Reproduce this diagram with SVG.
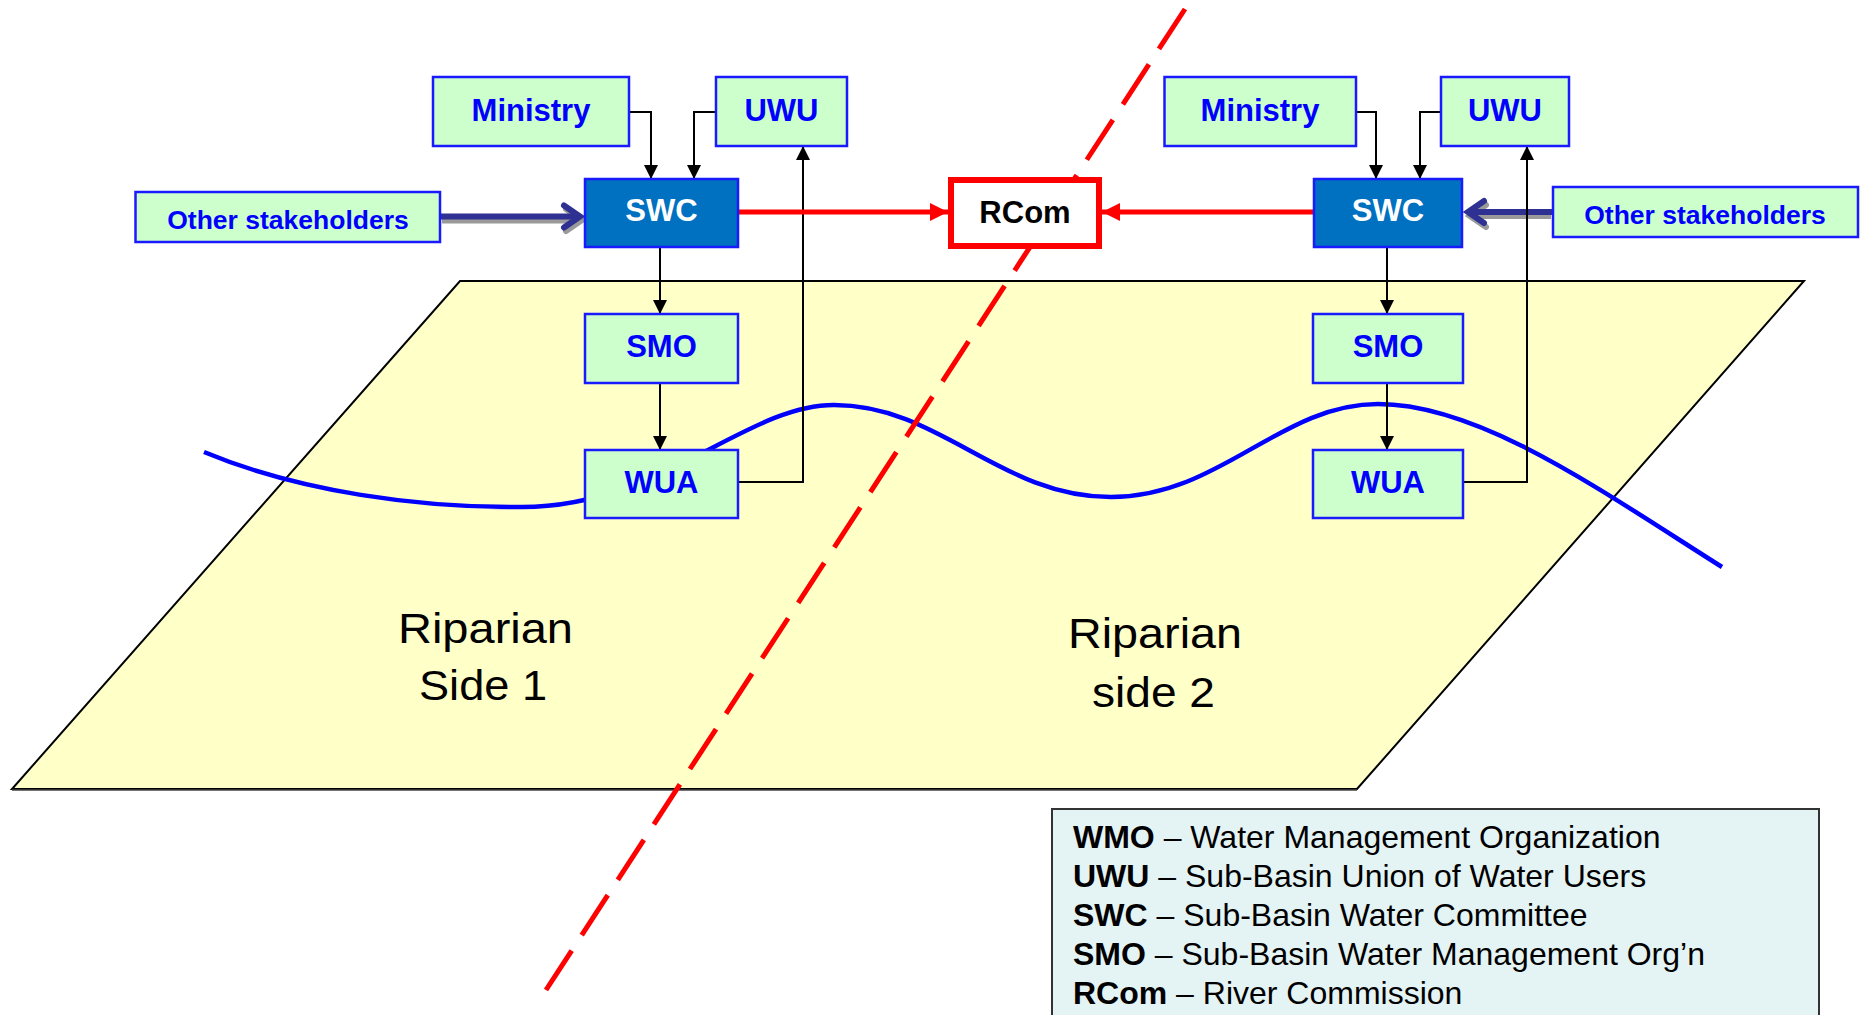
<svg xmlns="http://www.w3.org/2000/svg" width="1860" height="1015" viewBox="0 0 1860 1015">
<style>
.box{fill:#CCFFCC;stroke:#1a1aff;stroke-width:2.5}
.swc{fill:#0070C0;stroke:#1a1aff;stroke-width:2.5}
.lbl{font-family:"Liberation Sans",Arial,sans-serif;font-weight:bold;font-size:31px;fill:#0000FF;text-anchor:middle}
.lbl2{font-family:"Liberation Sans",Arial,sans-serif;font-weight:bold;font-size:26.5px;fill:#0000FF;text-anchor:middle}
.wt{fill:#FFFFFF}
.conn{fill:none;stroke:#000;stroke-width:2;marker-end:url(#ab)}
.red{fill:none;stroke:#FF0000;stroke-width:5;marker-end:url(#ar)}
.rip{font-family:"Liberation Sans",Arial,sans-serif;font-size:42px;fill:#000;text-anchor:middle}
.leg{font-family:"Liberation Sans",Arial,sans-serif;font-size:32px;fill:#000}
.shaft{fill:none;stroke:#2E3192;stroke-width:6}
.shadow{fill:none;stroke:#9a9a9a;stroke-width:6}
.head{fill:none;stroke:#2E3192;stroke-width:6;stroke-linecap:round;stroke-linejoin:miter}
.headsh{fill:none;stroke:#9a9a9a;stroke-width:6;stroke-linecap:round}
</style>
<defs>
<marker id="ab" viewBox="0 0 10 10" refX="10" refY="5" markerWidth="15" markerHeight="14" markerUnits="userSpaceOnUse" orient="auto"><path d="M0,0 L10,5 L0,10 z" fill="#000"/></marker>
<marker id="ar" viewBox="0 0 10 10" refX="10" refY="5" markerWidth="18" markerHeight="18" markerUnits="userSpaceOnUse" orient="auto"><path d="M0,0 L10,5 L0,10 z" fill="#FF0000"/></marker>
</defs>
<rect width="1860" height="1015" fill="#FFFFFF"/>
<g id="land">
<polygon points="460,281 1804,281 1357,789 12,789" fill="#FFFFC8" stroke="#000" stroke-width="2"/>
<line x1="12" y1="790" x2="1357" y2="790" stroke="#444" stroke-width="1.5"/>
</g>
<g id="river">
<path d="M204,452 C300,492 420,508 522,507 C660,507 745,405 834,405 C940,405 1000,497 1111,497 C1220,497 1280,404 1378,404 C1480,404 1600,490 1722,567" fill="none" stroke="#0000FF" stroke-width="4.5"/>
</g>
<g id="border">
<line x1="1185" y1="9" x2="546" y2="990" stroke="#FF0000" stroke-width="5" stroke-dasharray="47.7 18.4"/>
</g>
<g id="riparian1">
<text class="rip" x="485.5" y="643" textLength="175" lengthAdjust="spacingAndGlyphs">Riparian</text>
<text class="rip" x="483" y="700" textLength="128" lengthAdjust="spacingAndGlyphs">Side 1</text>
</g>
<g id="riparian2">
<text class="rip" x="1155" y="648" textLength="174" lengthAdjust="spacingAndGlyphs">Riparian</text>
<text class="rip" x="1153.5" y="707" textLength="123" lengthAdjust="spacingAndGlyphs">side 2</text>
</g>
<g id="connectors">
<path class="shadow" d="M442,220.5 L574,220.5"/>
<path class="headsh" d="M566,209 L582,220 L566,231"/>
<path class="shaft" d="M440,216.5 L576,216.5"/>
<path class="head" d="M564,205.5 L580,216.5 L564,227.5"/>
<path class="shadow" d="M1551,216 L1470,216"/>
<path class="headsh" d="M1486,205 L1470,216 L1486,227"/>
<path class="shaft" d="M1553,212 L1469,212"/>
<path class="head" d="M1484,201 L1468,212 L1484,223"/>
<path class="conn" d="M629,112 L651,112 L651,179"/>
<path class="conn" d="M716,112 L694,112 L694,179"/>
<path class="conn" d="M660,247 L660,314"/>
<path class="conn" d="M660,383 L660,450"/>
<path class="conn" d="M738,482 L803,482 L803,146"/>
<path class="conn" d="M1356,112 L1376,112 L1376,179"/>
<path class="conn" d="M1441,112 L1420,112 L1420,179"/>
<path class="conn" d="M1387,247 L1387,314"/>
<path class="conn" d="M1387,383 L1387,450"/>
<path class="conn" d="M1463,482 L1527,482 L1527,146"/>
<path class="red" d="M738,212 L948,212"/>
<path class="red" d="M1314,212 L1102,212"/>
</g>
<g id="ministry1"><rect class="box" x="433" y="77" width="196" height="69"/><text class="lbl" x="531" y="121">Ministry</text></g>
<g id="uwu1"><rect class="box" x="716" y="77" width="131" height="69"/><text class="lbl" x="781.5" y="121">UWU</text></g>
<g id="other1"><rect class="box" x="135.5" y="192" width="304.5" height="50"/><text class="lbl2" x="288" y="229">Other stakeholders</text></g>
<g id="swc1"><rect class="swc" x="585" y="179" width="153" height="68"/><text class="lbl wt" x="661.5" y="221">SWC</text></g>
<g id="smo1"><rect class="box" x="585" y="314" width="153" height="69"/><text class="lbl" x="661.5" y="357">SMO</text></g>
<g id="wua1"><rect class="box" x="585" y="450" width="153" height="68"/><text class="lbl" x="661.5" y="493">WUA</text></g>
<g id="rcom"><rect x="951" y="180" width="148" height="66" fill="#FFFFFF" stroke="#FF0000" stroke-width="6"/><text class="lbl" style="fill:#000" x="1025" y="223">RCom</text></g>
<g id="ministry2"><rect class="box" x="1164.5" y="77" width="191.5" height="69"/><text class="lbl" x="1260" y="121">Ministry</text></g>
<g id="uwu2"><rect class="box" x="1441" y="77" width="128" height="69"/><text class="lbl" x="1505" y="121">UWU</text></g>
<g id="swc2"><rect class="swc" x="1314" y="179" width="148" height="68"/><text class="lbl wt" x="1388" y="221">SWC</text></g>
<g id="other2"><rect class="box" x="1553" y="187" width="305" height="50"/><text class="lbl2" x="1705" y="224">Other stakeholders</text></g>
<g id="smo2"><rect class="box" x="1313" y="314" width="150" height="69"/><text class="lbl" x="1388" y="357">SMO</text></g>
<g id="wua2"><rect class="box" x="1313" y="450" width="150" height="68"/><text class="lbl" x="1388" y="493">WUA</text></g>
<g id="legend">
<rect x="1052" y="809" width="767" height="220" fill="#E4F3F4" stroke="#333" stroke-width="2"/>
<text class="leg" x="1073" y="848"><tspan font-weight="bold">WMO</tspan> – Water Management Organization</text>
<text class="leg" x="1073" y="887"><tspan font-weight="bold">UWU</tspan> – Sub-Basin Union of Water Users</text>
<text class="leg" x="1073" y="926"><tspan font-weight="bold">SWC</tspan> – Sub-Basin Water Committee</text>
<text class="leg" x="1073" y="965"><tspan font-weight="bold">SMO</tspan> – Sub-Basin Water Management Org’n</text>
<text class="leg" x="1073" y="1004"><tspan font-weight="bold">RCom</tspan> – River Commission</text>
</g>
</svg>
